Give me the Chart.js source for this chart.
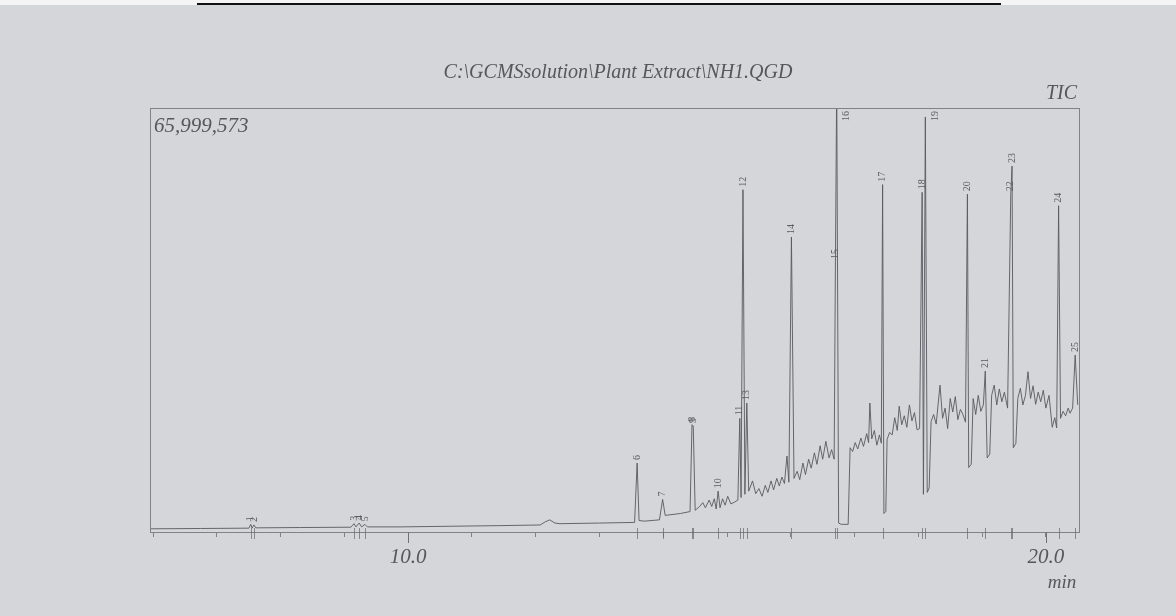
<!DOCTYPE html>
<html>
<head>
<meta charset="utf-8">
<script src="https://cdn.jsdelivr.net/npm/chart.js@4.4.0/dist/chart.umd.min.js"></script>
<style>
  body { margin: 0; background: #d4d6d9; }
  canvas { display: block; }
</style>
</head>
<body>
<canvas id="tic" width="1176" height="616"></canvas>
<script>
// retention time (min) and TIC intensity (millions of counts)
var times = [
    5.96, 6.74, 7.50, 7.53, 7.55, 7.58, 7.61, 8.31, 9.10, 9.15, 9.18, 9.23, 9.27, 9.32, 9.36, 9.87,
    10.66, 11.44, 12.07, 12.15, 12.22, 12.30, 12.38, 13.00, 13.55, 13.59, 13.62, 13.70, 13.94, 13.99,
    14.03, 14.27, 14.42, 14.45, 14.47, 14.50, 14.57, 14.62, 14.66, 14.72, 14.76, 14.80, 14.83, 14.86,
    14.89, 14.93, 14.97, 15.01, 15.06, 15.12, 15.17, 15.20, 15.22, 15.25, 15.28, 15.31, 15.34, 15.40,
    15.45, 15.50, 15.55, 15.60, 15.64, 15.69, 15.73, 15.78, 15.82, 15.86, 15.90, 15.94, 15.97, 16.01,
    16.05, 16.10, 16.14, 16.19, 16.23, 16.28, 16.32, 16.37, 16.41, 16.46, 16.50, 16.55, 16.60, 16.64,
    16.68, 16.70, 16.72, 16.75, 16.79, 16.90, 16.93, 16.97, 17.01, 17.05, 17.10, 17.14, 17.19, 17.22,
    17.24, 17.27, 17.31, 17.35, 17.39, 17.42, 17.44, 17.46, 17.49, 17.51, 17.55, 17.59, 17.63, 17.67,
    17.70, 17.74, 17.78, 17.82, 17.86, 17.90, 17.94, 17.98, 18.02, 18.06, 18.08, 18.11, 18.14, 18.17,
    18.20, 18.24, 18.28, 18.34, 18.38, 18.42, 18.46, 18.50, 18.54, 18.58, 18.62, 18.66, 18.70, 18.74,
    18.77, 18.79, 18.83, 18.86, 18.90, 18.94, 18.98, 19.02, 19.05, 19.08, 19.12, 19.15, 19.19, 19.23,
    19.27, 19.31, 19.35, 19.40, 19.45, 19.47, 19.49, 19.53, 19.56, 19.60, 19.64, 19.68, 19.72, 19.76,
    19.80, 19.84, 19.88, 19.92, 19.96, 20.00, 20.05, 20.10, 20.14, 20.17, 20.20, 20.23, 20.27, 20.31,
    20.35, 20.38, 20.42, 20.46, 20.50
];
var signal = [
    0.1, 0.15, 0.2, 0.8, 0.2, 0.7, 0.25, 0.3, 0.35, 0.9, 0.4, 1.0, 0.4, 0.8, 0.4, 0.4,
    0.5, 0.6, 0.7, 1.2, 1.5, 1.0, 0.9, 1.0, 1.1, 10.4, 1.4, 1.3, 1.5, 4.7,
    2.2, 2.5, 2.8, 16.4, 16.2, 3.0, 3.6, 4.2, 3.4, 4.6, 3.6, 4.8, 3.2, 6.0,
    3.4, 4.8, 3.8, 5.2, 4.0, 4.3, 4.6, 17.4, 5.0, 53.2, 5.5, 19.8, 6.0, 7.6,
    5.6, 6.4, 5.2, 6.9, 5.8, 7.6, 6.2, 8.0, 6.8, 8.2, 7.2, 11.5, 7.4, 45.8,
    8.0, 9.1, 7.8, 10.4, 8.6, 11.0, 9.6, 12.0, 10.2, 13.1, 11.0, 13.8, 11.2, 12.5,
    11.0, 41.9, 70.0, 1.0, 0.8, 0.8, 12.8, 12.2, 13.6, 12.6, 14.3, 13.0, 15.0, 13.6,
    19.8, 14.2, 15.5, 13.2, 14.8, 13.5, 54.0, 2.5, 2.8, 14.1, 15.2, 14.8, 17.5, 15.5,
    19.3, 16.4, 17.8, 16.0, 19.5, 17.0, 18.3, 15.6, 15.8, 52.8, 5.5, 64.6, 5.8, 6.5,
    16.9, 18.0, 16.5, 22.6, 17.4, 19.0, 15.8, 20.5, 18.4, 20.8, 17.2, 18.8, 18.0, 16.8,
    52.5, 9.7, 10.2, 20.5, 18.0, 21.0, 18.5, 19.5, 24.8, 11.2, 11.8, 21.0, 22.6, 19.5,
    22.0, 20.0, 21.5, 19.0, 52.5, 56.9, 12.8, 13.5, 20.5, 22.1, 19.5, 21.0, 24.7, 20.5,
    22.5, 19.6, 21.5, 20.0, 21.8, 19.0, 21.0, 16.0, 17.5, 15.9, 50.7, 17.4, 18.5, 17.8,
    19.0, 18.2, 19.0, 27.3, 19.5
];

// numbered peaks
var peakTimes = [7.53, 7.58, 9.15, 9.23, 9.32, 13.59, 13.99, 14.45, 14.47, 14.86, 15.20, 15.25, 15.31,
    16.01, 16.70, 16.72, 17.44, 18.06, 18.11, 18.77, 19.05, 19.45, 19.47, 20.20, 20.46];
var peakHeights = [0.8, 0.7, 0.9, 1.0, 0.8, 10.4, 4.7, 16.4, 16.2, 6.0, 17.4, 53.2, 19.8,
    45.8, 41.9, 70.0, 54.0, 52.8, 64.6, 52.5, 24.8, 52.5, 56.9, 50.7, 27.3];
var peakLabels = ['1', '2', '3', '4', '5', '6', '7', '8', '9', '10', '11', '12', '13',
    '14', '15', '16', '17', '18', '19', '20', '21', '22', '23', '24', '25'];

var axisTicks = [6, 7, 8, 9, 10, 11, 12, 13, 14, 15, 16, 17, 18, 19, 20];
var majorTicks = [10, 20];
var majorLabels = ['10.0', '20.0'];

var inkColor = '#55575c';
var serif = '"Liberation Serif", "DejaVu Serif", serif';

var points = times.map(function (t, i) { return { x: t, y: signal[i] }; });

var decor = {
    id: 'decor',
    beforeDraw: function (chart) {
        var ctx = chart.ctx;
        ctx.save();
        ctx.fillStyle = '#d4d6d9';
        ctx.fillRect(0, 0, chart.width, chart.height);
        // top of the printed page
        ctx.fillStyle = '#f4f4f4';
        ctx.fillRect(0, 0, chart.width, 5);
        ctx.fillStyle = '#111';
        ctx.fillRect(197, 3, 804, 2);
        ctx.restore();
    },
    afterDraw: function (chart) {
        var ctx = chart.ctx;
        var a = chart.chartArea;
        var xs = chart.scales.x;
        var ys = chart.scales.y;
        ctx.save();

        // frame
        ctx.strokeStyle = '#808287';
        ctx.lineWidth = 1;
        ctx.strokeRect(a.left + 0.5, a.top + 0.5, a.right - a.left, a.bottom - a.top);

        // longer ticks at labelled times
        ctx.strokeStyle = '#6f7176';
        majorTicks.forEach(function (v) {
            var px = Math.round(xs.getPixelForValue(v)) + 0.5;
            ctx.beginPath();
            ctx.moveTo(px, a.bottom);
            ctx.lineTo(px, a.bottom + 11);
            ctx.stroke();
        });

        // integration marks under each peak
        ctx.strokeStyle = 'rgba(100,102,108,0.7)';
        peakTimes.forEach(function (t) {
            var px = Math.round(xs.getPixelForValue(t)) + 0.5;
            ctx.beginPath();
            ctx.moveTo(px, a.bottom - 4);
            ctx.lineTo(px, a.bottom + 7);
            ctx.stroke();
        });

        // peak numbers, rotated
        ctx.fillStyle = '#5a5c61';
        ctx.font = '10px ' + serif;
        ctx.textBaseline = 'middle';
        peakLabels.forEach(function (lbl, i) {
            var px = xs.getPixelForValue(peakTimes[i]);
            var py = ys.getPixelForValue(peakHeights[i]) - 3;
            var w = ctx.measureText(lbl).width;
            if (py - w < a.top + 2) {
                py = a.top + 3 + w;
                px += 10;
            }
            ctx.save();
            ctx.translate(px, py);
            ctx.rotate(-Math.PI / 2);
            ctx.textAlign = 'left';
            ctx.fillText(lbl, 0, 0);
            ctx.restore();
        });

        // texts
        ctx.fillStyle = inkColor;
        ctx.font = 'italic 20px ' + serif;
        ctx.textBaseline = 'alphabetic';
        ctx.textAlign = 'center';
        ctx.fillText('C:\\GCMSsolution\\Plant Extract\\NH1.QGD', 618, 78);
        ctx.textAlign = 'right';
        ctx.fillText('TIC', a.right - 2, 99);
        ctx.font = 'italic 21px ' + serif;
        ctx.textAlign = 'left';
        ctx.fillText('65,999,573', a.left + 4, 132);
        ctx.font = 'italic 19px ' + serif;
        ctx.textAlign = 'center';
        ctx.fillText('min', 1062, 588);
        ctx.restore();
    }
};

var config = {
    type: 'line',
    data: {
        datasets: [{
            label: 'TIC',
            data: points,
            borderColor: 'rgba(88,90,96,0.9)',
            borderWidth: 1,
            pointRadius: 0,
            tension: 0,
            fill: false
        }]
    },
    options: {
        responsive: false,
        animation: false,
        devicePixelRatio: 1,
        layout: { padding: { left: 150, right: 97, top: 108, bottom: 0 } },
        plugins: {
            legend: { display: false },
            tooltip: { enabled: false },
            title: { display: false }
        },
        scales: {
            x: {
                type: 'linear',
                min: 5.95,
                max: 20.52,
                afterBuildTicks: function (scale) {
                    scale.ticks = axisTicks.map(function (v) { return { value: v }; });
                },
                afterFit: function (scale) {
                    scale.height = 84;
                },
                ticks: {
                    autoSkip: false,
                    maxRotation: 0,
                    padding: 8,
                    color: inkColor,
                    font: { family: serif, size: 21, style: 'italic' },
                    callback: function (v) {
                        var k = majorTicks.indexOf(v);
                        return k >= 0 ? majorLabels[k] : '';
                    }
                },
                grid: {
                    drawOnChartArea: false,
                    tickLength: 5,
                    color: '#808287'
                },
                border: { color: '#6f7176', width: 1 }
            },
            y: {
                display: false,
                min: -0.4,
                max: 66.0
            }
        }
    },
    plugins: [decor]
};

var ctx = document.getElementById('tic').getContext('2d');
window.ticChart = new Chart(ctx, config);
</script>
</body>
</html>
